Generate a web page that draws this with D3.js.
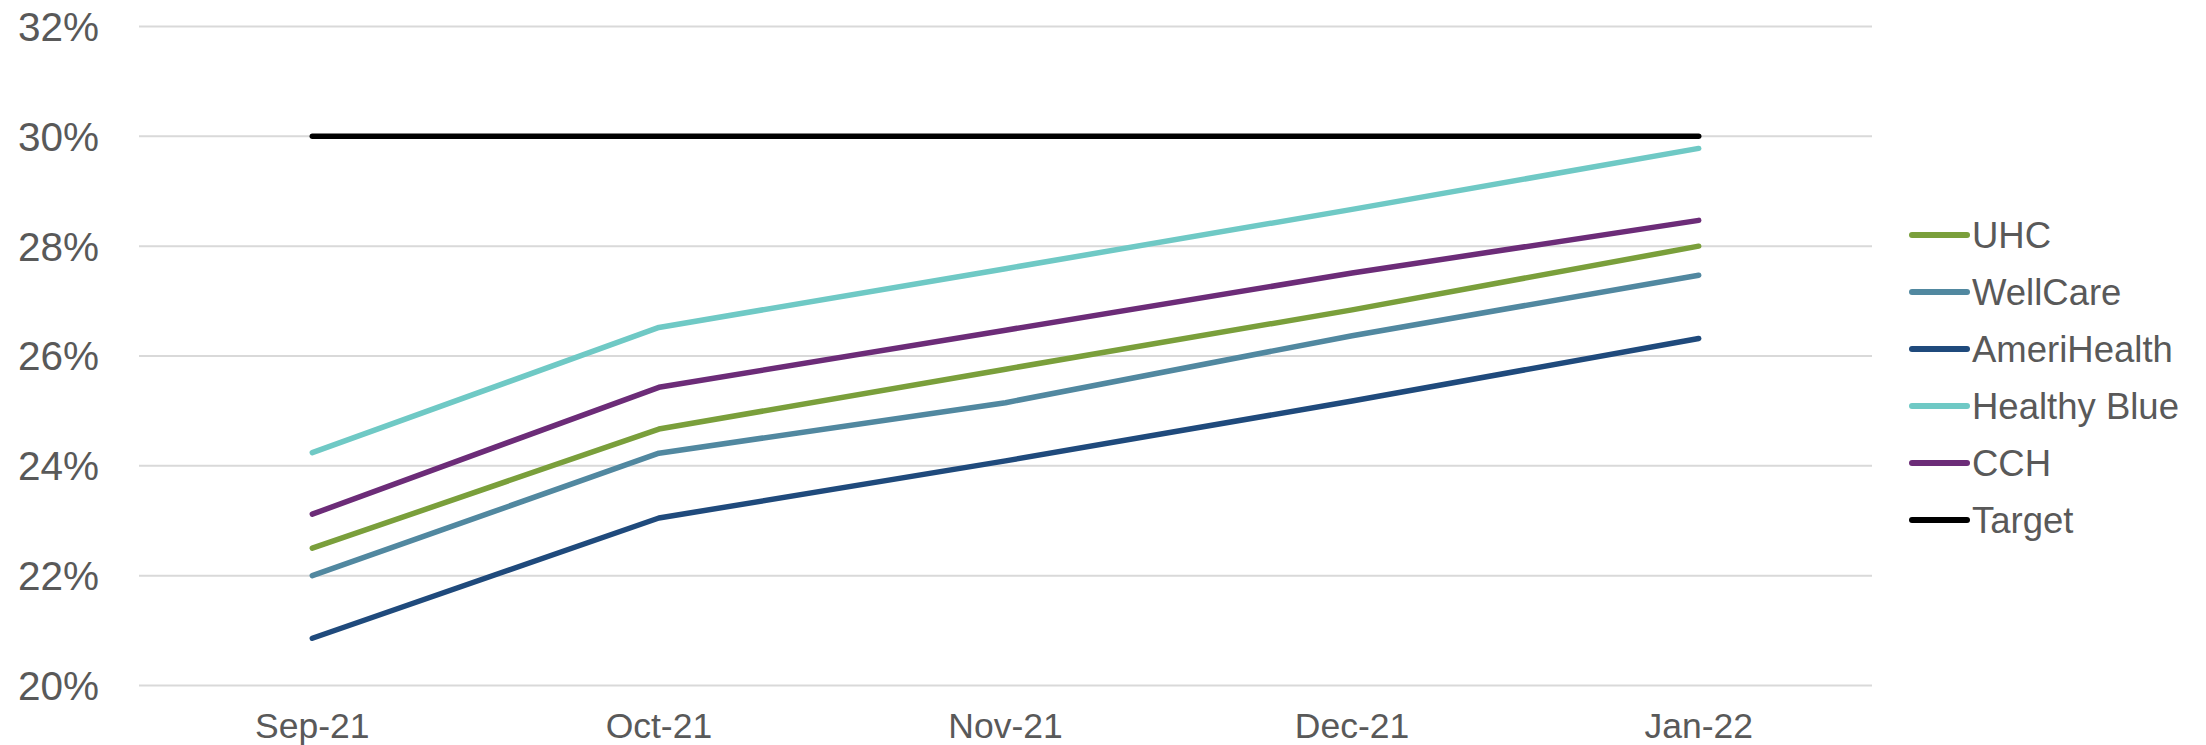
<!DOCTYPE html>
<html>
<head>
<meta charset="utf-8">
<script src="https://cdn.jsdelivr.net/npm/d3@7"></script>
<style>
html,body{margin:0;padding:0;background:#fff;}
svg{display:block;font-family:"Liberation Sans",Arial,sans-serif;}
</style>
</head>
<body>
<svg id="chart" width="2206" height="745"></svg>
<script>
const months = ["Sep-21","Oct-21","Nov-21","Dec-21","Jan-22"];
const yTicks = [20,22,24,26,28,30,32];
const seriesNames = ["UHC","WellCare","AmeriHealth","Healthy Blue","CCH","Target"];
const seriesColors = ["#7a9f3b","#5188a0","#1f4a7c","#6fc9c5","#6c2c78","#000000"];
const uhc = [22.5,24.67,25.76,26.84,28.0];
const wellcare = [22.0,24.23,25.15,26.37,27.47];
const amerihealth = [20.86,23.05,24.09,25.18,26.32];
const healthyBlue = [24.24,26.52,27.59,28.67,29.78];
const cch = [23.12,25.43,26.47,27.51,28.47];
const target = [30,30,30,30,30];
const seriesValues = [uhc,wellcare,amerihealth,healthyBlue,cch,target];

const svg = d3.select("#chart");
const x = d3.scaleBand().domain(months).range([139,1872]);
const y = d3.scaleLinear().domain([20,32]).range([685.5,26.5]);
const cx = m => x(m) + x.bandwidth()/2;

// gridlines
svg.append("g").selectAll("line").data(yTicks).join("line")
  .attr("x1",139).attr("x2",1872)
  .attr("y1",d=>y(d)).attr("y2",d=>y(d))
  .attr("stroke","#d9d9d9").attr("stroke-width",2);

// y labels
const yFs = 40.5;
svg.append("g").selectAll("text").data(yTicks).join("text")
  .attr("x",99).attr("y",d=>y(d)+0.358*yFs)
  .attr("text-anchor","end").attr("font-size",yFs).attr("fill","#595959")
  .text(d=>d+"%");

// x labels
svg.append("g").selectAll("text").data(months).join("text")
  .attr("x",d=>cx(d)).attr("y",738)
  .attr("text-anchor","middle").attr("font-size",35.5).attr("fill","#595959")
  .text(d=>d);

// lines
const line = d3.line().x((d,i)=>cx(months[i])).y(d=>y(d));
svg.append("g").selectAll("path").data(seriesValues).join("path")
  .attr("d",d=>line(d))
  .attr("fill","none")
  .attr("stroke",(d,i)=>seriesColors[i])
  .attr("stroke-width",5.5)
  .attr("stroke-linecap","round")
  .attr("stroke-linejoin","round");

// legend
const lFs = 36.5;
const lg = svg.append("g").selectAll("g").data(seriesNames).join("g")
  .attr("transform",(d,i)=>`translate(0,${235+i*57})`);
lg.append("line").attr("x1",1912).attr("x2",1967).attr("y1",0).attr("y2",0)
  .attr("stroke",(d,i)=>seriesColors[i]).attr("stroke-width",6).attr("stroke-linecap","round");
lg.append("text").attr("x",1972).attr("y",0.358*lFs)
  .attr("font-size",lFs).attr("fill","#595959").text(d=>d);
</script>
</body>
</html>
